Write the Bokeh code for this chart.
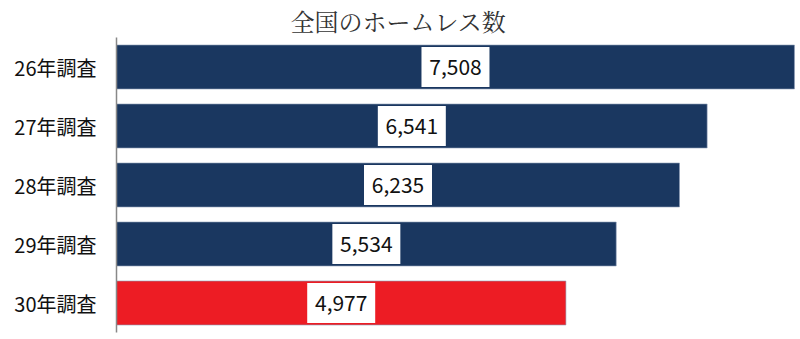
from bokeh.plotting import figure
from bokeh.models import FactorRange, Range1d, ColumnDataSource
from bokeh.core.properties import value
from bokeh.embed import file_html
from bokeh.resources import INLINE

categories = ["26年調査", "27年調査", "28年調査", "29年調査", "30年調査"]
counts = [7508, 6541, 6235, 5534, 4977]
bar_colors = ["#1A3760", "#1A3760", "#1A3760", "#1A3760", "#ED1C24"]
title_text = "全国のホームレス数"

labels = [f"{v:,}" for v in counts]
mids = [v / 2 for v in counts]

src = ColumnDataSource(dict(cat=categories, val=counts, color=bar_colors,
                            mid=mids, label=labels))

p = figure(width=800, height=339, output_backend="svg", toolbar_location=None,
           y_range=FactorRange(factors=list(reversed(categories)), range_padding=0),
           x_range=Range1d(0, 7575),
           min_border_left=116, min_border_right=0, min_border_bottom=7,
           min_border_top=0)

p.title.text = title_text
p.title.align = "left"
p.title.text_font = "Noto Serif CJK JP, serif"
p.title.text_font_size = "24px"
p.title.text_font_style = "normal"
p.title.text_color = "#333333"
p.title.offset = 174
p.title.standoff = 0
p.title.text_line_height = 0.9

p.hbar(y="cat", right="val", left=0, height=0.745, source=src,
       fill_color="color", line_color="#8A9BB5", line_width=1, line_alpha=0.6)

p.rect(x="mid", y="cat", width=68, height=40, width_units="screen",
       height_units="screen", source=src, fill_color="white", line_color=None)

p.text(x="mid", y="cat", text="label", source=src, text_align="center",
       text_baseline="middle", text_font=value("Noto Sans CJK JP"),
       text_font_size="21px", text_color="#111111")

p.xaxis.visible = False
p.yaxis.major_tick_line_color = None
p.yaxis.minor_tick_line_color = None
p.yaxis.axis_line_color = "#888888"
p.yaxis.axis_line_width = 1.5
p.yaxis.major_label_text_font = "Noto Sans CJK JP"
p.yaxis.major_label_text_font_size = "20px"
p.yaxis.major_label_text_color = "#111111"
p.yaxis.major_label_standoff = 14
p.xgrid.grid_line_color = None
p.ygrid.grid_line_color = None
p.outline_line_color = None

open("out.html", "w").write(file_html(p, INLINE))
